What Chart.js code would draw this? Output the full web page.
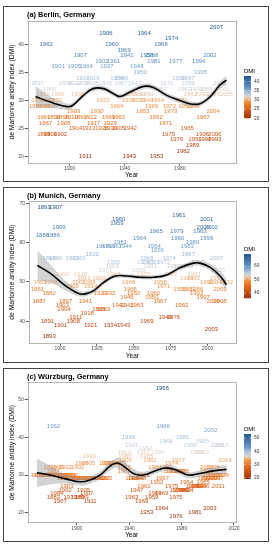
<!DOCTYPE html>
<html><head><meta charset="utf-8">
<script src="https://cdn.jsdelivr.net/npm/chart.js@4.4.0/dist/chart.umd.min.js"></script>
<style>
html,body{margin:0;padding:0;background:#fff;width:274px;height:550px;overflow:hidden}
canvas{position:absolute;left:3px;display:block}
</style></head><body>
<canvas id="ca" width="266" height="176" style="top:6px"></canvas>
<canvas id="cb" width="266" height="176" style="top:187px"></canvas>
<canvas id="cc" width="266" height="174" style="top:368px"></canvas>
<script>
// ---------------- Berlin ----------------
const berlinYears = [
"2007",
"1906","1964",
"1974",
"1962","1960","1966",
"1969",
"1907","1941","1958","1968","2002",
"1902","1961","1981","1977","1994",
"1901","1905","1964","1927","1948",
"1950","1995",
"1910","1916","1956","1986","1980","1967",
"1897","1904","1902","1930","1908","1925","1967","1947","1970","1955","2008",
"1966","1957","1963","1993","1988","2011",
"1955","1966","1908","1969","1980","1960","1962","2002","1985","2005",
"1891","1887","1893","1923","1938","1939","1944","1964","1981",
"1881","1889","1898","1964","1969","1972","1956","1958",
"1903","1930","1953","1973","2004",
"1961","1899","1898","1910","1893","1912","1969","1963","1952","1967",
"1967","1905","1917","1929","1971",
"1904","1913","1926","1919","1905","1942","1965",
"1898","1900","1902","1975","1906","2006",
"1976","1991","1998","1993",
"1989",
"1962",
"1911","1943","1953"];
const berlinX = [
2006.5,
1926.3,1954,
1974,
1882.9,1930.6,1966.3,
1939.5,
1907.7,1941.5,1955.9,1959.5,2001.7,
1923.4,1931.8,1961.2,1976.9,1993.7,
1891.6,1903.4,1912,1927,1948.7,
1951.1,1995,
1909.6,1916.9,1934.2,1937.8,1979.3,1986,
1876.4,1896.9,1903.4,1909.6,1916.1,1925.8,1937.1,1947,1970.4,1986,2008.9,
1885.5,1965.6,1983.1,1992,1998.8,2011.8,
1880.7,1891.3,1905.8,1944.6,1949.9,1955.9,1987.7,1995.7,2004.1,2013.8,
1876.9,1883.6,1889.6,1924.1,1942.7,1949.9,1955.9,1963.6,1981.2,
1875.2,1881.2,1886,1934.2,1959.5,1972.3,1983.6,1989.7,
1902.9,1919.8,1953,1973.3,2004.1,
1881.2,1888.4,1894.5,1901,1907.7,1914.9,1928.2,1935.4,1962.7,1996.9,
1882.4,1895.7,1917.4,1929.4,1969.6,
1904.1,1913.7,1923.4,1929.4,1935.4,1943.9,1985.3,
1881.2,1886,1893.3,1971.6,1996.4,2005.3,
1977.6,1990.9,1998.1,2005.3,
1989.2,
1982.4,
1911.3,1943.4,1963.1];
const berlinDMI = [
43,
42,42,
41,
40,40,40,
39,
38,38,38,38,38,
37,37,37,37,37,
36,36,36,36,36,
35,35,
34,34,34,34,34,34,
33,33,33,33,33,33,33,33,33,33,33,
32,32,32,32,32,32,
31,31,31,31,31,31,31,31,31,31,
30,30,30,30,30,30,30,30,30,
29,29,29,29,29,29,29,29,
28,28,28,28,28,
27,27,27,27,27,27,27,27,27,27,
26,26,26,26,26,
25,25,25,25,25,25,25,
24,24,24,24,24,24,
23,23,23,23,
22,
21,
20,20,20];
const berlinSmoothX = [1875.2,1886,1898,1902,1910,1917,1924.6,1931.8,1936.6,1943.9,1953.5,1960.7,1970.4,1980,1987.2,1994.5,2001.7,2008.9,2013.8];
const berlinSmoothY = [30.7,29.7,28.9,29.1,30.9,32.1,32.1,31.2,30.7,31.5,32.5,32.3,30.9,30.0,29.4,29.4,30.6,32.7,33.6];
const berlinLo = [28.8,28.7,28.35,28.6,30.45,31.65,31.65,30.75,30.25,31.05,32.05,31.85,30.45,29.55,28.95,28.95,30.1,32.1,32.8];
const berlinHi = [32.6,30.7,29.45,29.6,31.35,32.55,32.55,31.65,31.15,31.95,32.95,32.75,31.35,30.45,29.85,29.85,31.1,33.3,34.4];
const berlinXTicks = [1900,1940,1980];
const berlinYTicks = [20,25,30,35,40];
const berlinLegendTicks = [20,25,30,35,40];

// ---------------- Munich ----------------
const munichYears = [
"1893","1907",
"1961",
"1960","2001",
"1959",
"1909","2000","2002",
"1965","1979","1963",
"1888","1886",
"1964","1960","1999",
"1961","1980",
"1968","1969","1967","1944","1954","1983",
"1956",
"1922","1967",
"1896","1880","1902","1962","1968","1974","2007",
"1955","1959","1960","1953","1972","1993",
"1953","1951","1980","1988","1985",
"1961","1959","2010",
"1900","1918","1917","1955","1973","1981",
"1913","1920","1999","1985","1951",
"1965","1909","1902","1908","1968","1958","1990","2004","2012",
"1905","1914","1971",
"1881","1968","1956","1961","1986","2009",
"1882","1923","1932","1950","1960","1992",
"1945","1950","1997",
"1887","1897","1941","1967","2006","2008",
"1903","1942","1941","1963","1962",
"1904","1895","1963",
"1918",
"1911","1949","1976",
"1891","1908","1969",
"1901","1921","1934","1943",
"2003",
"1893"];
const munichX = [
1889.2,1897.1,
1980.6,
1939.8,1999.3,
1938.6,
1899.3,1997,2002.6,
1965.1,1979.1,1994.8,
1888.1,1895.5,
1953.9,1979.7,1999.3,
1940.9,1989.8,
1928.5,1933,1937.5,1944.2,1963.8,1986.2,
1966,
1921.8,1986.9,
1892.6,1897.1,1908.3,1912.8,1958.8,1973.9,2006,
1936.4,1956.6,1960,1963.3,1970.1,1993.2,
1935.3,1961.1,1976.8,1981.3,1985.8,
1930.8,1953.2,2007.1,
1901.6,1913.9,1936.4,1956.6,1974.6,1991,
1916.2,1926.3,1985.8,1990.3,2006,
1886.5,1893.7,1912.8,1919.5,1946.5,1967.8,1999.3,2004.9,2012.7,
1908.3,1920.7,1970.1,
1884.7,1947.6,1981.3,1986.9,1992.5,2008.3,
1892.6,1927.4,1933,1949.9,1963.3,1992.5,
1945.4,1962.2,1997,
1885.9,1903.8,1917.3,1967.8,2003.8,2008.3,
1901.6,1939.8,1945.4,1952.1,1982.4,
1902.7,1926.3,1929.6,
1918.4,
1910.6,1971.2,1976.8,
1891.5,1909,1958.8,
1900.4,1920.7,1934.1,1943.1,
2002.6,
1892.6];
const munichDMI = [
69,69,
67,
66,66,
65,
64,64,64,
63,63,63,
62,62,
61,61,61,
60,60,
59,59,59,59,59,59,
58,
57,57,
56,56,56,56,56,56,56,
55,55,55,55,55,55,
54,54,54,54,54,
53,53,53,
52,52,52,52,52,52,
51,51,51,51,51,
50,50,50,50,50,50,50,50,50,
49,49,49,
48,48,48,48,48,48,
47,47,47,47,47,47,
46,46,46,
45,45,45,45,45,45,
44,44,44,44,44,
43,43,43,
42,
41,41,41,
40,40,40,
39,39,39,39,
38,
36];
const munichSmoothX = [1884.7,1893.7,1902.7,1911.7,1916.2,1922.9,1929.6,1937.5,1945.4,1954.4,1963.3,1972.3,1981.3,1990.3,1994.8,2001.5,2008.3,2012.7];
const munichSmoothY = [54.2,52.1,49.3,47.2,46.9,47.8,49.9,51.5,51.5,51.2,51.2,51.8,53.6,54.8,54.8,53.8,51.6,49.3];
const munichLo = [50.3,49.9,48.0,46.4,46.3,47.2,49.3,51.0,51.0,50.7,50.7,51.3,53.0,54.1,54.1,52.9,50.4,47.7];
const munichHi = [58.1,54.3,50.6,48.0,47.5,48.4,50.5,52.0,52.0,51.7,51.7,52.3,54.2,55.5,55.5,54.7,52.8,50.9];
const munichXTicks = [1900,1925,1950,1975,2000];
const munichYTicks = [40,50,60,70];
const munichLegendTicks = [40,50,60];

// ---------------- Würzburg ----------------
const wuerzYears = [
"1965",
"1962","1966",
"2002",
"1969","1981",
"1968","1965",
"1941","1988","2008","2010",
"1962",
"1963","1957","1961","1983","1962",
"1910","1960","1965",
"1906","1963","1977","2013",
"1906","1905","1974","1926","1927","1928","1929","1930","1931","1932","1933",
"1896","1909","1922","1902","1968","1960","1963","2003","2006",
"1887","1967","1992","1971","1972","1973","1974","1975","1976",
"1870","1872","1874","1876","1878","1880","1882","1884","1886","1888","1890","1892","1894","1896","1951","2001","2003","2005","2007","2009",
"1890","1892","1894","1896","1898","1900","1902","1904","1906","1908","1910","1912","1914","1916","1918","1920","1922","1942","1944","1946","1948","1967","1997","1999","2002","2004","2007",
"1952","1964","1985",
"1903","1961","1975","2011","1988","1990","1992","1994","1996",
"1962","1905","1947","1976","1978","1980","1982","1984",
"1984","1907","1969","1963",
"1883","1913","1989","1899","1963","1959","1975",
"1967","1911","1969",
"1964","2003",
"1953","1981",
"1976"];
const wuerzX = [
1965.3,
1882.2,1966,
2002.1,
1939.4,1980.8,
1968.1,1995.8,
1941.9,1986.4,2007.2,2010.5,
1952.6,
1936.1,1950.8,1962,1991.4,1995.8,
1909.7,1936.8,1953.3,
1937,1955.9,1977.5,2013,
1903.8,1908.9,1972.4,1922,1923.5,1925,1926.5,1928,1929.5,1931,1932.5,
1879.7,1884.8,1891.1,1900.5,1936.1,1959.7,1968.1,1999.1,2004.1,
1882,1936.1,1999.1,1971,1973,1975,1977,1979,1981,
1870,1872,1874,1876,1878,1880,1882,1884,1886,1888,1890,1892,1894,1896,1950.8,2001,2003.5,2006,2008.5,2011,
1890,1892,1894,1896,1898,1900,1902,1904,1906,1908,1910,1912,1914,1916,1918,1920,1922,1942,1944,1946,1948,1965.3,1997,1999.5,2002,2004.5,2007,
1961,1983.8,1996.5,
1892.4,1951.3,1972.4,2008,1988,1990,1992,1994,1996,
1891.1,1905.1,1945.7,1976,1978,1980,1982,1984,
1884.8,1907.6,1959.7,1964.8,
1882.2,1894.9,1900.5,1903.8,1941.9,1957.2,1975.7,
1887.3,1910.2,1949.5,
1964.8,2001.6,
1953.3,1990.2,
1975.7];
const wuerzDMI = [
53,
43,43,
42,
40,40,
39,39,
38,38,38,38,
37,
36,36,36,36,36,
35,35,35,
34,34,34,34,
33,33,33,33,33,33,33,33,33,33,33,
32,32,32,32,32,32,32,32,32,
31,31,31,31,31,31,31,31,31,
30,30,30,30,30,30,30,30,30,30,30,30,30,30,30,30,30,30,30,30,
29,29,29,29,29,29,29,29,29,29,29,29,29,29,29,29,29,29,29,29,29,29,29,29,29,29,29,
28,28,28,
27,27,27,27,27,27,27,27,27,
26,26,26,26,26,26,26,26,
25,25,25,25,
24,24,24,24,24,24,24,
23,23,23,
21,21,
20,20,
19];
const wuerzSmoothX = [1869.5,1879.7,1892.4,1902.5,1910.2,1917.8,1925.4,1930.5,1935.6,1943.2,1950.8,1961,1968.6,1976.2,1985.1,1994,2004.1,2014.3];
const wuerzSmoothY = [30.6,30,28.9,28.2,28.7,30,32.4,33.2,32.4,30.4,30,31.3,31.9,31.3,30,30.4,31.1,31.5];
const wuerzLo = [26.8,27.5,27.7,27.2,27.7,29,31.2,31.9,30.9,29.1,29.1,30.5,31.1,30.5,29.2,29.5,30.1,30.2];
const wuerzHi = [34.4,32.5,30.1,29.2,29.7,31,33.6,34.5,33.9,31.7,30.9,32.1,32.7,32.1,30.8,31.3,32.1,32.8];
const wuerzXTicks = [1900,1940,1980,2020];
const wuerzYTicks = [20,30,40,50];
const wuerzLegendTicks = [20,30,40,50];

// ---------------- drawing ----------------
const FONT = "'Liberation Sans', Arial, Helvetica, sans-serif";
const STOPS = [[0,160,50,10],[0.18,210,85,20],[0.33,238,122,38],[0.43,243,160,95],[0.5,225,212,200],[0.57,190,205,222],[0.72,100,148,200],[1,35,85,145]];
function cmap(t){
  t = Math.max(0, Math.min(1, t));
  for (let i = 1; i < STOPS.length; i++) {
    if (t <= STOPS[i][0]) {
      const a = STOPS[i-1], b = STOPS[i], f = (t - a[0]) / (b[0] - a[0]);
      return 'rgb(' + [1,2,3].map(k => Math.round(a[k] + (b[k]-a[k])*f)).join(',') + ')';
    }
  }
  return 'rgb(35,85,145)';
}

const decoPlugin = {
  id: 'deco',
  beforeDatasetsDraw(chart, args, o) {
    const idx = chart.data.datasets.findIndex(d => d.isLabels);
    const ds = chart.data.datasets[idx], meta = chart.getDatasetMeta(idx);
    const ctx = chart.ctx, a = chart.chartArea;
    ctx.save();
    ctx.beginPath(); ctx.rect(a.left, a.top, a.right - a.left, a.bottom - a.top); ctx.clip();
    ctx.font = '6px ' + FONT; ctx.textAlign = 'center'; ctx.textBaseline = 'middle';
    meta.data.forEach((pt, i) => {
      ctx.fillStyle = cmap((ds.data[i].y - o.cMin) / (o.cMax - o.cMin));
      ctx.fillText(ds.texts[i], pt.x, pt.y);
    });
    ctx.restore();
  },
  afterDatasetsDraw(chart) {
    const ctx = chart.ctx, a = chart.chartArea;
    ctx.save();
    ctx.strokeStyle = '#b5b5b5'; ctx.lineWidth = 1;
    ctx.strokeRect(Math.round(a.left) + 0.5, Math.round(a.top) + 0.5, Math.round(a.right - a.left), Math.round(a.bottom - a.top));
    ctx.restore();
  },
  afterDraw(chart, args, o) {
    const ctx = chart.ctx, W = chart.width, H = chart.height;
    ctx.save();
    ctx.strokeStyle = '#444'; ctx.lineWidth = 1;
    ctx.strokeRect(0.5, 0.5, W - 1, H - 1);
    ctx.fillStyle = '#000'; ctx.font = 'bold 7.4px ' + FONT; ctx.textAlign = 'left'; ctx.textBaseline = 'middle';
    ctx.fillText(o.title, 24, 9);
    // colour bar
    const bx = 241, bw = 7, top = o.barTop, bot = o.barBottom;
    const g = ctx.createLinearGradient(0, bot, 0, top);
    STOPS.forEach(s => g.addColorStop(s[0], 'rgb(' + s[1] + ',' + s[2] + ',' + s[3] + ')'));
    ctx.fillStyle = g; ctx.fillRect(bx, top, bw, bot - top);
    ctx.fillStyle = '#000'; ctx.font = '6px ' + FONT; ctx.textBaseline = 'alphabetic';
    ctx.fillText('DMI', bx, top - 3);
    ctx.font = '4.8px ' + FONT; ctx.fillStyle = '#333'; ctx.textBaseline = 'middle';
    o.ticks.forEach(v => {
      const y = bot - (v - o.cMin) / (o.cMax - o.cMin) * (bot - top);
      ctx.fillText(String(v), bx + bw + 3, y);
      ctx.strokeStyle = '#fff'; ctx.lineWidth = 0.6;
      ctx.beginPath(); ctx.moveTo(bx, y); ctx.lineTo(bx + 1.5, y); ctx.moveTo(bx + bw - 1.5, y); ctx.lineTo(bx + bw, y); ctx.stroke();
    });
    ctx.restore();
  }
};

function makePanel(id, p) {
  const pts = p.xs.map((x, i) => ({x: x, y: p.dmi[i]}));
  const line = (ys) => p.sx.map((x, i) => ({x: x, y: ys[i]}));
  const cMin = Math.min(...p.dmi), cMax = Math.max(...p.dmi);
  new Chart(document.getElementById(id), {
    type: 'scatter',
    data: { datasets: [
      { data: line(p.sy), showLine: true, borderColor: '#000', borderWidth: 1.6, pointRadius: 0, tension: 0.4, fill: false },
      { data: line(p.hi), showLine: true, borderWidth: 0, borderColor: 'rgba(0,0,0,0)', pointRadius: 0, tension: 0.4, fill: '+1', backgroundColor: 'rgba(150,150,150,0.42)' },
      { data: line(p.lo), showLine: true, borderWidth: 0, borderColor: 'rgba(0,0,0,0)', pointRadius: 0, tension: 0.4, fill: false },
      { data: pts, isLabels: true, texts: p.years, pointRadius: 0, showLine: false }
    ]},
    options: {
      responsive: false, animation: false, events: [],
      layout: { autoPadding: false, padding: { left: 0, top: p.padTop, right: p.padRight, bottom: 0 } },
      plugins: {
        legend: { display: false }, tooltip: { enabled: false },
        deco: { title: p.title, cMin: cMin, cMax: cMax, barTop: p.barTop, barBottom: p.barBottom, ticks: p.legendTicks }
      },
      scales: {
        x: {
          type: 'linear', min: p.xMin, max: p.xMax,
          afterBuildTicks: s => { s.ticks = p.xTicks.map(v => ({value: v})); },
          afterFit: s => { s.height = p.xH; },
          grid: { display: true, drawOnChartArea: false, drawTicks: true, tickLength: 2.5, color: '#333', lineWidth: 0.8 },
          border: { display: false },
          ticks: { font: { size: 5, family: FONT }, color: '#4d4d4d', padding: 0, maxRotation: 0, autoSkip: false, callback: v => String(v) },
          title: { display: true, text: 'Year', font: { size: 6.5, family: FONT }, color: '#000', padding: { top: 0, bottom: 3 } }
        },
        y: {
          type: 'linear', min: p.yMin, max: p.yMax,
          afterBuildTicks: s => { s.ticks = p.yTicks.map(v => ({value: v})); },
          afterFit: s => { s.width = p.yW; },
          grid: { display: true, drawOnChartArea: false, drawTicks: true, tickLength: 3, color: '#333', lineWidth: 0.8 },
          border: { display: false },
          ticks: { font: { size: 5, family: FONT }, color: '#4d4d4d', padding: 1, autoSkip: false, callback: v => String(v) },
          title: { display: true, text: 'de Martonne aridity index (DMI)', font: { size: 6.8, family: FONT }, color: '#000', padding: { top: 5.2, bottom: 0 } }
        }
      }
    },
    plugins: [decoPlugin]
  });
}

makePanel('ca', { title: '(a) Berlin, Germany', years: berlinYears, xs: berlinX, dmi: berlinDMI,
  sx: berlinSmoothX, sy: berlinSmoothY, lo: berlinLo, hi: berlinHi,
  xMin: 1869.5, xMax: 2020.5, yMin: 18.85, yMax: 44.15, xTicks: berlinXTicks, yTicks: berlinYTicks, legendTicks: berlinLegendTicks,
  padTop: 15, padRight: 33.3, yW: 24.7, xH: 19, barTop: 70, barBottom: 112.3 });
makePanel('cb', { title: '(b) Munich, Germany', years: munichYears, xs: munichX, dmi: munichDMI,
  sx: munichSmoothX, sy: munichSmoothY, lo: munichLo, hi: munichHi,
  xMin: 1879, xMax: 2019, yMin: 34.35, yMax: 70.65, xTicks: munichXTicks, yTicks: munichYTicks, legendTicks: munichLegendTicks,
  padTop: 14, padRight: 33.3, yW: 26, xH: 19.7, barTop: 67, barBottom: 111.3 });
makePanel('cc', { title: '(c) Würzburg, Germany', years: wuerzYears, xs: wuerzX, dmi: wuerzDMI,
  sx: wuerzSmoothX, sy: wuerzSmoothY, lo: wuerzLo, hi: wuerzHi,
  xMin: 1862.5, xMax: 2021.3, yMin: 17.3, yMax: 54.7, xTicks: wuerzXTicks, yTicks: wuerzYTicks, legendTicks: wuerzLegendTicks,
  padTop: 14.3, padRight: 33.3, yW: 24.7, xH: 19.3, barTop: 66, barBottom: 111 });
</script>
</body></html>
